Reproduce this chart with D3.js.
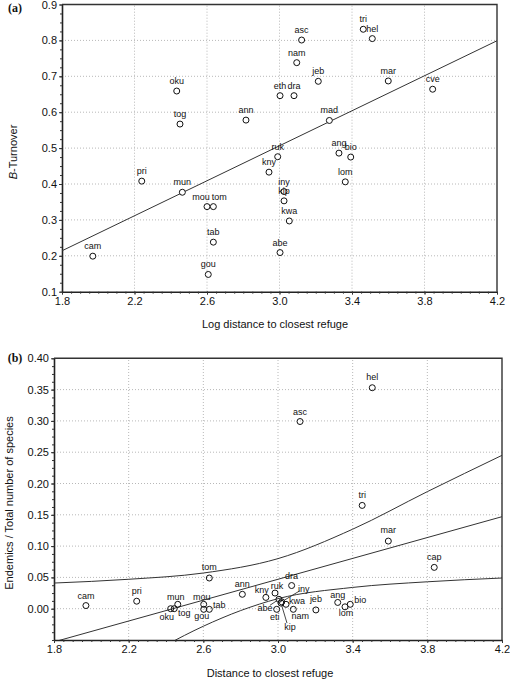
<!DOCTYPE html>
<html><head><meta charset="utf-8">
<script src="https://cdn.jsdelivr.net/npm/d3@7"></script>
<style>
html,body{margin:0;padding:0;background:#fff;}
svg{display:block;font-family:"Liberation Sans",Arial,sans-serif;}
</style></head>
<body>
<svg id="c" width="510" height="681"></svg>
<script>
// ---------- Panel (a) data ----------
const sitesA = ["cam","pri","mun","mou","tom","tab","gou","oku","tog","ann","asc","nam","jeb","eth","dra","tri","hel","mar","cve","mad","ang","bio","ruk","kny","lom","iny","kip","kwa","abe"];
const logDistA = [1.97,2.24,2.464,2.60,2.635,2.635,2.607,2.433,2.451,2.815,3.122,3.095,3.214,3.003,3.08,3.462,3.512,3.60,3.845,3.275,3.328,3.393,2.99,2.942,3.363,3.025,3.025,3.054,3.003];
const turnoverA = [0.199,0.408,0.377,0.337,0.337,0.238,0.148,0.659,0.567,0.578,0.801,0.738,0.686,0.646,0.646,0.831,0.805,0.687,0.664,0.577,0.486,0.475,0.476,0.433,0.406,0.379,0.353,0.297,0.209];
const regAx = [1.8, 4.2];
const regAy = [0.214, 0.799];
const xTicksA = [1.8,2.2,2.6,3.0,3.4,3.8,4.2];
const yTicksA = [0.1,0.2,0.3,0.4,0.5,0.6,0.7,0.8,0.9];

// ---------- Panel (b) data ----------
const sitesB = ["cam","pri","tom","mun","oku","tog","mou","gou","tab","ann","kny","ruk","dra","abe","iny","kip","kwa","eti","nam","jeb","ang","lom","bio","mar","cap","hel","asc","tri"];
const distB = [1.971,2.243,2.632,2.463,2.425,2.444,2.602,2.602,2.632,2.809,2.935,2.984,3.073,3.005,3.02,3.016,3.043,2.993,3.082,3.203,3.32,3.359,3.387,3.591,3.837,3.505,3.118,3.451];
const endemB = [0.005,0.012,0.049,0.007,0.000,0.000,0.007,-0.001,-0.001,0.023,0.018,0.025,0.037,0.015,0.011,0.009,0.007,-0.001,-0.001,-0.002,0.010,0.003,0.007,0.108,0.066,0.353,0.299,0.165];
const fitBx = [1.8, 4.2];
const fitBy = [-0.053, 0.147];
const upperBx = [1.8,2.2,2.6,3.0,3.4,3.8,4.2];
const upperBy = [0.041,0.047,0.057,0.080,0.127,0.187,0.245];
const lowerBx = [2.4,2.6,2.8,3.0,3.4,3.8,4.2];
const lowerBy = [-0.058,-0.028,-0.003,0.016,0.034,0.043,0.049];
const xTicksB = [1.8,2.2,2.6,3.0,3.4,3.8,4.2];
const yTicksB = [0.00,0.05,0.10,0.15,0.20,0.25,0.30,0.35,0.40];

// label placement (pixels)
const labelOffA = {mou:[-6,-10], tom:[6,-10]};
const labelOffB = {cam:[0,-10],pri:[0,-10],tom:[0,-11],mun:[-2,-7],mou:[-2,-7],oku:[-4,8],tog:[10,4],gou:[-2,7],tab:[10,-4],ann:[0,-10],kny:[-4,-7],ruk:[2,-7],dra:[0,-10],iny:[22,-13],kwa:[11,-3],abe:[-14,9],eti:[-2,8],nam:[7,7],kip:[9,24],jeb:[0,-11],ang:[0,-7],bio:[10,-4],lom:[1,6],mar:[0,-11],cap:[0,-10],hel:[0,-11],asc:[0,-10],tri:[0,-10]};
const leaderB = {iny:[18,-11], abe:[-9,6], kip:[6,20]};

const svg = d3.select("#c");
const R = 3;

function panel(opts){
  const {x, y, xTicks, yTicks, yFmt, minorX, minorY, clipId} = opts;
  const g = svg.append("g");
  const [x0,x1] = x.range(), [y0,y1] = y.range();
  g.append("defs").append("clipPath").attr("id",clipId)
    .append("rect").attr("x",x0).attr("y",y1).attr("width",x1-x0).attr("height",y0-y1);
  g.append("g").selectAll("line").data(xTicks.slice(1,-1)).join("line")
    .attr("x1",d=>x(d)).attr("x2",d=>x(d)).attr("y1",y0).attr("y2",y1)
    .attr("stroke","#b8b8b8").attr("stroke-dasharray","1,2").attr("stroke-width",1);
  g.append("g").selectAll("line").data(yTicks.filter(d=>y(d)<y0-1 && y(d)>y1+1)).join("line")
    .attr("y1",d=>y(d)).attr("y2",d=>y(d)).attr("x1",x0).attr("x2",x1)
    .attr("stroke","#b8b8b8").attr("stroke-dasharray","1,2").attr("stroke-width",1);
  const ax = g.append("g").attr("transform",`translate(0,${y0})`)
    .call(d3.axisBottom(x).tickValues(xTicks).tickFormat(d3.format(".1f")).tickSize(3).tickSizeOuter(0));
  const ay = g.append("g").attr("transform",`translate(${x0},0)`)
    .call(d3.axisLeft(y).tickValues(yTicks).tickFormat(yFmt).tickSize(3).tickSizeOuter(0));
  g.append("g").attr("transform",`translate(0,${y0})`)
    .call(d3.axisBottom(x).tickValues(minorX).tickFormat("").tickSize(2).tickSizeOuter(0))
    .select(".domain").remove();
  g.append("g").attr("transform",`translate(${x0},0)`)
    .call(d3.axisLeft(y).tickValues(minorY).tickFormat("").tickSize(2).tickSizeOuter(0))
    .select(".domain").remove();
  [ax,ay].forEach(a=>{
    a.selectAll("text").attr("font-size",11).attr("fill","#111").attr("font-family","Liberation Sans, Arial, sans-serif");
    a.select(".domain").attr("stroke","#222").attr("stroke-width",1.6);
  });
  ax.selectAll("text").attr("dy","0.85em").attr("y",4);
  ay.selectAll("text").attr("x",-5);
  g.selectAll(".tick line").attr("stroke","#333");
  g.append("path").attr("d",`M${x0},${y1}H${x1}V${y0}`).attr("fill","none").attr("stroke","#333").attr("stroke-width",1.4);
  return g;
}

function ticksBetween(lo,hi,step){
  const out=[]; const n=Math.round((hi-lo)/step);
  for(let i=0;i<=n;i++) out.push(lo+i*step);
  return out;
}

// ================= Panel (a) =================
const xA = d3.scaleLinear().domain([1.8,4.2]).range([62,497]);
const yA = d3.scaleLinear().domain([0.1,0.9]).range([291.7,4.5]);
const gA = panel({x:xA,y:yA,xTicks:xTicksA,yTicks:yTicksA,yFmt:d3.format(".1f"),
  minorX:ticksBetween(1.8,4.2,0.05),minorY:ticksBetween(0.1,0.9,0.025),clipId:"clipA"});
gA.append("path").datum(regAx.map((d,i)=>[d,regAy[i]]))
  .attr("clip-path","url(#clipA)")
  .attr("d",d3.line().x(d=>xA(d[0])).y(d=>yA(d[1])))
  .attr("fill","none").attr("stroke","#333").attr("stroke-width",1);
const ptsA = sitesA.map((s,i)=>({s,x:logDistA[i],y:turnoverA[i]}));
gA.append("g").selectAll("circle").data(ptsA).join("circle")
  .attr("cx",d=>xA(d.x)).attr("cy",d=>yA(d.y)).attr("r",R)
  .attr("fill","#fff").attr("stroke","#111").attr("stroke-width",1);
gA.append("g").selectAll("text").data(ptsA).join("text")
  .attr("x",d=>xA(d.x)+(labelOffA[d.s]?labelOffA[d.s][0]:0))
  .attr("y",d=>yA(d.y)+(labelOffA[d.s]?labelOffA[d.s][1]:-10))
  .attr("text-anchor","middle").attr("dominant-baseline","central")
  .attr("font-size",9).attr("fill","#111").text(d=>d.s);
svg.append("text").attr("x",275).attr("y",324).attr("text-anchor","middle")
  .attr("dominant-baseline","central").attr("font-size",11).attr("fill","#111")
  .text("Log distance to closest refuge");
const ytA = svg.append("text").attr("transform","translate(12.5,152) rotate(-90)")
  .attr("text-anchor","middle").attr("dominant-baseline","central").attr("font-size",11).attr("fill","#111");
ytA.append("tspan").attr("font-style","italic").text("B");
ytA.append("tspan").text("-Turnover");
svg.append("text").attr("x",15).attr("y",8).attr("text-anchor","middle").attr("dominant-baseline","central")
  .attr("font-family","Liberation Serif, Times New Roman, serif").attr("font-weight","bold").attr("font-size",12)
  .attr("fill","#111").text("(a)");

// ================= Panel (b) =================
const xB = d3.scaleLinear().domain([1.8,4.2]).range([54,502]);
const yB = d3.scaleLinear().domain([-0.05,0.40]).range([640,358.3]);
const gB = panel({x:xB,y:yB,xTicks:xTicksB,yTicks:yTicksB,yFmt:d3.format(".2f"),
  minorX:ticksBetween(1.8,4.2,0.05),minorY:ticksBetween(-0.05,0.40,0.0125),clipId:"clipB"});
const lineB = d3.line().x(d=>xB(d[0])).y(d=>yB(d[1])).curve(d3.curveMonotoneX);
[[fitBx,fitBy],[upperBx,upperBy],[lowerBx,lowerBy]].forEach(([xs,ys])=>{
  gB.append("path").datum(xs.map((d,i)=>[d,ys[i]]))
    .attr("clip-path","url(#clipB)").attr("d",lineB)
    .attr("fill","none").attr("stroke","#333").attr("stroke-width",1);
});
const ptsB = sitesB.map((s,i)=>({s,x:distB[i],y:endemB[i]}));
gB.append("g").selectAll("line").data(ptsB.filter(d=>leaderB[d.s])).join("line")
  .attr("x1",d=>xB(d.x)+leaderB[d.s][0]).attr("y1",d=>yB(d.y)+leaderB[d.s][1])
  .attr("x2",d=>{const o=leaderB[d.s],L=Math.hypot(o[0],o[1]);return xB(d.x)+o[0]/L*R;})
  .attr("y2",d=>{const o=leaderB[d.s],L=Math.hypot(o[0],o[1]);return yB(d.y)+o[1]/L*R;})
  .attr("stroke","#333").attr("stroke-width",0.9);
gB.append("g").selectAll("circle").data(ptsB).join("circle")
  .attr("cx",d=>xB(d.x)).attr("cy",d=>yB(d.y)).attr("r",R)
  .attr("fill","none").attr("stroke","#111").attr("stroke-width",1);
gB.append("g").selectAll("text").data(ptsB).join("text")
  .attr("x",d=>xB(d.x)+labelOffB[d.s][0]).attr("y",d=>yB(d.y)+labelOffB[d.s][1])
  .attr("text-anchor","middle").attr("dominant-baseline","central")
  .attr("font-size",9).attr("fill","#111").text(d=>d.s);
svg.append("text").attr("x",270).attr("y",673).attr("text-anchor","middle")
  .attr("dominant-baseline","central").attr("font-size",11).attr("fill","#111")
  .text("Distance to closest refuge");
svg.append("text").attr("transform","translate(8.5,503) rotate(-90)")
  .attr("text-anchor","middle").attr("dominant-baseline","central").attr("font-size",11).attr("fill","#111")
  .text("Endemics / Total number of species");
svg.append("text").attr("x",15).attr("y",358).attr("text-anchor","middle").attr("dominant-baseline","central")
  .attr("font-family","Liberation Serif, Times New Roman, serif").attr("font-weight","bold").attr("font-size",12)
  .attr("fill","#111").text("(b)");
</script>
</body></html>
